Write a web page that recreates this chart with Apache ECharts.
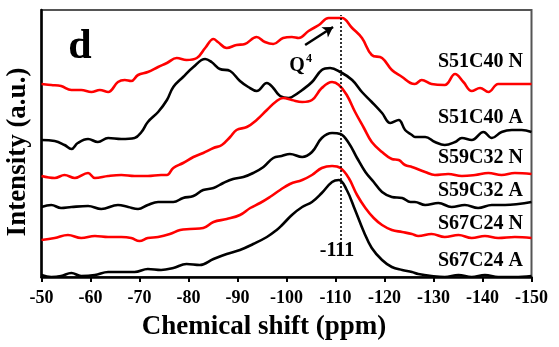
<!DOCTYPE html>
<html>
<head>
<meta charset="utf-8">
<script src="https://cdn.jsdelivr.net/npm/echarts@6/dist/echarts.min.js"></script>
<style>html,body{margin:0;padding:0;background:#fff;}#c{width:559px;height:347px;}</style>
</head>
<body>
<div id="c"></div>
<script>
// x ticks (ppm)
var xTicks = [-50, -60, -70, -80, -90, -100, -110, -120, -130, -140, -150];
var seriesNames = ['S51C40 N', 'S51C40 A', 'S59C32 N', 'S59C32 A', 'S67C24 N', 'S67C24 A'];
var seriesColors = ['#ff0000', '#000000', '#ff0000', '#000000', '#ff0000', '#000000'];
var xTitle = 'Chemical shift (ppm)';
var yTitle = 'Intensity (a.u.)';

// [chemical shift (ppm), intensity (a.u., offset stacked)]
var s51c40N = [[-50,193],[-52,192],[-54,191],[-56.1,187],[-58.1,187],[-60.2,185],[-61.9,187],[-63.6,185],[-65.6,195],[-67,197],[-68.3,196],[-69.7,202],[-71.7,205],[-73.8,210],[-75.6,214],[-77.6,219],[-79.6,217],[-81.7,219],[-83.4,229],[-85.1,238],[-86,235],[-87.8,229],[-89.8,232],[-91.5,233],[-93.9,240],[-95.6,235],[-97.3,233],[-99.3,239],[-101.1,240],[-102.5,239],[-104.5,246],[-106.6,252],[-108.6,259],[-110,259],[-111.3,259],[-113.4,249],[-115.4,239],[-117.4,222],[-119.5,219],[-121.5,207],[-123.6,200],[-125.3,194],[-126.2,193],[-127.6,197],[-129.6,193],[-132.3,192],[-134.4,203],[-136.1,195],[-137.8,186],[-139.5,189],[-141.2,185],[-143.2,193],[-146,193],[-148,193],[-150,193]];
var s51c40A = [[-50,137],[-52.7,136],[-54.7,132],[-56.1,128],[-57.4,134],[-59.5,138],[-61.5,135],[-63.6,139],[-66.3,138],[-69,139],[-70.4,145],[-71.7,155],[-73.8,165],[-75.6,177],[-76.9,190],[-78.9,200],[-81,210],[-83.4,218],[-84.7,215],[-86.4,208],[-88.5,206],[-90.5,196],[-92.2,190],[-93.9,186],[-96,194],[-97.3,189],[-98.7,181],[-100.4,179],[-101.1,180],[-103.2,187],[-105.2,195],[-107.2,207],[-108.9,209],[-111,205],[-113.4,197],[-115.4,185],[-117.4,175],[-119.5,164],[-121.2,154],[-122.9,157],[-124.2,147],[-125.6,142],[-126.2,140],[-128.3,140],[-130.3,135],[-132.3,132],[-134.4,135],[-135.8,139],[-137.8,137],[-140.2,145],[-141.9,139],[-143.9,145],[-146,147],[-148,147],[-150,145]];
var s59c32N = [[-50,101],[-52.7,99],[-54.7,102],[-56.8,99],[-59.5,104],[-60.9,99],[-63.6,101],[-66.3,102],[-69,101],[-71.7,101],[-74.4,102],[-75.6,102],[-76.9,109],[-78.9,114],[-81,120],[-83,124],[-85.1,129],[-86.8,132],[-88.5,140],[-89.8,147],[-91.9,150],[-93.9,157],[-96,167],[-98,176],[-99.3,179],[-101.1,177],[-103.2,175],[-105.2,177],[-107.2,189],[-109.3,195],[-110.7,192],[-112.3,182],[-114,165],[-115.8,149],[-117.4,135],[-119.5,125],[-121.5,118],[-122.9,117],[-124.2,112],[-125.6,110],[-126.2,109],[-128.3,105],[-130.3,102],[-133,103],[-135.8,101],[-138.5,102],[-141.2,104],[-143.9,102],[-146.6,104],[-150,103]];
var s59c32A = [[-50,70],[-52,72],[-54,69],[-56.1,70],[-59.5,71],[-62.2,68],[-65.6,72],[-67.7,70],[-69.7,68],[-71.7,72],[-73.8,75],[-76.9,75],[-78.9,79],[-81,81],[-83,87],[-85.1,89],[-87.1,94],[-89.1,98],[-91.2,100],[-93.2,104],[-95.3,110],[-97.3,119],[-99,121],[-100.7,123],[-103.2,120],[-105.2,125],[-107.2,139],[-109.3,144],[-111,143],[-112.7,134],[-114.4,119],[-116.1,105],[-117.8,95],[-119.5,85],[-121.5,80],[-123.6,79],[-125.3,75],[-126.2,75],[-128.3,72],[-131,74],[-133.7,70],[-136.4,72],[-139.1,69],[-141.9,72],[-144.6,72],[-147.3,73],[-150,75]];
var s67c24N = [[-50,37],[-52.7,39],[-55.4,42],[-58.1,39],[-60.9,41],[-63.6,40],[-66.3,40],[-68.3,39],[-70,36],[-71.7,39],[-73.8,40],[-76.2,43],[-78.3,47],[-80.3,48],[-83,49],[-85.1,55],[-87.8,58],[-90.5,62],[-92.6,69],[-94.6,74],[-96.6,80],[-98.7,87],[-100.7,93],[-103.2,97],[-105.2,102],[-107.2,109],[-109.3,111],[-111,109],[-112.7,99],[-114.4,82],[-116.1,69],[-117.8,59],[-119.5,52],[-121.5,47],[-123.6,45],[-125.6,43],[-126.9,41],[-129.6,43],[-132.3,40],[-135.1,42],[-137.8,39],[-140.5,41],[-143.2,39],[-146.6,40],[-150,39]];
var s67c24A = [[-50,2],[-52,0],[-54,1],[-56.1,4],[-58.1,1],[-60.9,2],[-63.6,5],[-66.3,5],[-69,5],[-71.7,8],[-74.4,7],[-76.9,9],[-79.6,13],[-82.3,12],[-85.1,18],[-87.8,23],[-90.5,27],[-93.2,33],[-96,40],[-98,47],[-99.1,52],[-101.1,62],[-103.2,70],[-105.2,75],[-107.2,84],[-109.3,95],[-110.7,97],[-112.3,87],[-114,67],[-115.8,45],[-117.4,29],[-119.5,17],[-121.5,10],[-123.6,7],[-125.6,5],[-126.9,3],[-129.6,1],[-132.3,0],[-135.1,2],[-137.8,0],[-140.5,2],[-143.2,0],[-146.6,0],[-150,1]];

var peakShift = -111;
var dottedLine = [[-111, 37], [-111, 262]];
var arrowLine = [[-103.8, 232], [-109.5, 250]];

var allData = [s51c40N, s51c40A, s59c32N, s59c32A, s67c24N, s67c24A];
var SERIF = '"Liberation Serif", "Times New Roman", serif';

var series = allData.map(function (d, i) {
  return {
    name: seriesNames[i],
    type: 'line',
    data: d,
    showSymbol: false,
    smooth: 0.4,
    silent: true,
    lineStyle: { color: seriesColors[i], width: 2.6 },
    z: 3
  };
});
series[0].markLine = {
  silent: true,
  symbol: ['none', 'none'],
  label: { show: false },
  emphasis: { disabled: true },
  data: [
    [{ coord: dottedLine[0], lineStyle: { type: [2, 2], color: '#000', width: 1.6 } }, { coord: dottedLine[1] }],
    [{ coord: arrowLine[0], symbol: 'none', lineStyle: { type: 'solid', color: '#000', width: 2.6 } }, { coord: arrowLine[1], symbol: 'arrow', symbolSize: [9, 10] }]
  ]
};

var labelY = [62, 118, 158, 191, 224, 261];
var graphics = seriesNames.map(function (n, i) {
  return { type: 'text', x: 523, y: labelY[i], style: { text: n, align: 'right', verticalAlign: 'middle', font: 'bold 20px ' + SERIF, fill: '#000' }, z: 10 };
});
graphics.push({ type: 'text', x: 80, y: 47, style: { text: 'd', align: 'center', verticalAlign: 'middle', font: 'bold 42px ' + SERIF, fill: '#000' } });
graphics.push({ type: 'text', x: 337, y: 251, style: { text: String(peakShift), align: 'center', verticalAlign: 'middle', font: 'bold 20px ' + SERIF, fill: '#000' } });
graphics.push({ type: 'text', x: 297, y: 66, style: { text: 'Q', align: 'center', verticalAlign: 'middle', font: 'bold 20px ' + SERIF, fill: '#000' } });
graphics.push({ type: 'text', x: 309, y: 59, style: { text: '4', align: 'center', verticalAlign: 'middle', font: 'bold 12px ' + SERIF, fill: '#000' } });
graphics.push({ type: 'text', x: 264, y: 327, style: { text: xTitle, align: 'center', verticalAlign: 'middle', font: 'bold 27px ' + SERIF, fill: '#000' } });
graphics.push({ type: 'text', x: 18, y: 152, rotation: Math.PI / 2, style: { text: yTitle, align: 'center', verticalAlign: 'middle', font: 'bold 27px ' + SERIF, fill: '#000' } });

var chart = echarts.init(document.getElementById('c'), null, { renderer: 'canvas' });
chart.setOption({
  animation: false,
  backgroundColor: '#fff',
  grid: { left: 41.5, right: 27.5, top: 10, bottom: 70, show: true, borderColor: '#555', borderWidth: 2 },
  xAxis: {
    type: 'value', inverse: true, min: -150, max: -50, interval: 10,
    axisLine: { show: true, lineStyle: { color: '#000', width: 2.5 } },
    axisTick: { show: true, length: 5, lineStyle: { color: '#000', width: 2 } },
    axisLabel: { fontFamily: SERIF, fontWeight: 'bold', fontSize: 18, color: '#000', margin: 12,
      formatter: function (v) { return xTicks.indexOf(v) >= 0 ? String(v) : ''; } },
    splitLine: { show: false }
  },
  yAxis: {
    type: 'value', min: 0, max: 267,
    axisLine: { show: true, lineStyle: { color: '#000', width: 2.5 } },
    axisTick: { show: false }, axisLabel: { show: false }, splitLine: { show: false }
  },
  series: series,
  graphic: graphics
});
</script>
</body>
</html>
